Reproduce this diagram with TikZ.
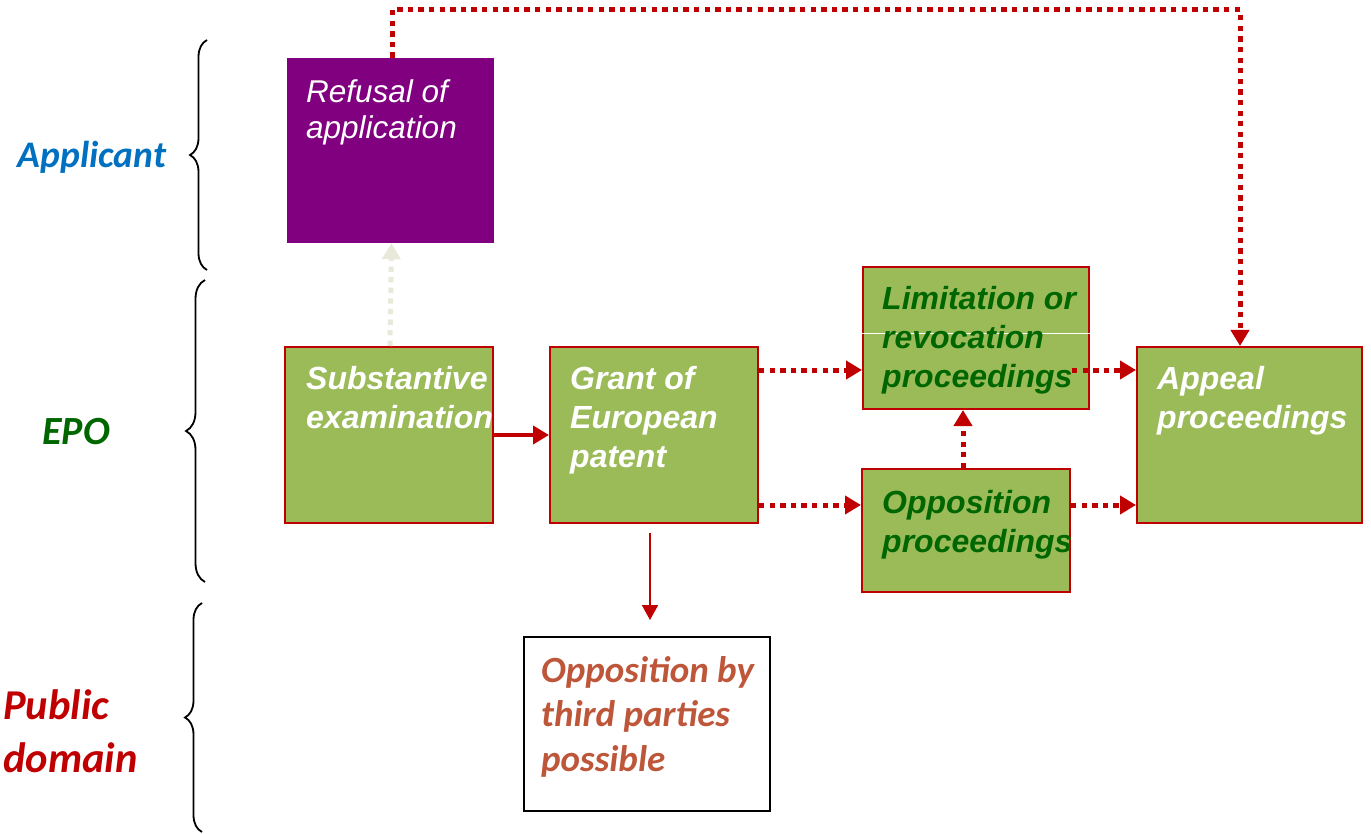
\documentclass[tikz,border=0pt]{standalone}
\usepackage{fontspec}
\setmainfont{Liberation Sans}
\newfontfamily\calibri{Carlito}
\usetikzlibrary{arrows.meta,decorations.pathreplacing,calc}
\definecolor{boxgreen}{RGB}{155,187,89}
\definecolor{boxred}{RGB}{192,0,0}
\definecolor{purp}{RGB}{128,0,128}
\definecolor{dgreen}{RGB}{0,102,0}
\definecolor{appblue}{RGB}{0,112,192}
\definecolor{pubred}{RGB}{192,0,0}
\definecolor{oppbrown}{RGB}{190,86,58}
\definecolor{paleline}{RGB}{233,233,218}
\begin{document}
\begin{tikzpicture}[x=1pt,y=-1pt,
  gbox/.style={draw=boxred, fill=boxgreen, line width=2pt, inner sep=0pt},
  pbox/.style={fill=purp, inner sep=0pt},
  wbox/.style={draw=black, fill=white, line width=2pt, inner sep=0pt},
  txt/.style={anchor=north west, inner sep=0pt, align=left},
  btxt/.style={txt, font=\fontsize{32}{39}\selectfont\bfseries\itshape},
  lbl/.style={inner sep=0pt, align=left, font=\calibri\bfseries\itshape},
  tip/.style={-{Triangle[length=16pt,width=18pt]}},
  dotred/.style={draw=boxred, line width=5pt, dash pattern=on 5.3pt off 5.3pt, tip},
  dotpale/.style={draw=paleline, line width=5pt, dash pattern=on 5.3pt off 5.3pt, tip},
  solidred/.style={draw=boxred, line width=4.5pt, tip},
  thinred/.style={draw=boxred, line width=2pt, -{Triangle[length=15pt,width=16pt]}},
  brc/.style={draw=black, line width=1.8pt, decorate, decoration={brace, amplitude=#1}}
]
\useasboundingbox (0,0) rectangle (1371,834);

% boxes
\node[pbox, minimum width=207pt, minimum height=185pt] (ref) at (390.5,150.5) {};
\node[gbox, minimum width=208pt, minimum height=176pt] (sub) at (389,435) {};
\node[gbox, minimum width=208pt, minimum height=176pt] (grant) at (654,435) {};
\node[gbox, minimum width=226pt, minimum height=142pt] (lim) at (976,338) {};
\node[gbox, minimum width=208pt, minimum height=123pt] (opp) at (966,530.5) {};
\node[gbox, minimum width=225pt, minimum height=176pt] (app) at (1249.5,435) {};
\node[wbox, minimum width=246pt, minimum height=174pt] (third) at (647,724) {};

% white rule in limitation box
\draw[white, line width=1pt] (lim.west |- 0,334) -- (lim.east |- 0,334);

% texts
\node[txt, text=white, font=\fontsize{31.5}{36}\selectfont\itshape] (reft) at (306,79) {Refusal of\\application};
\node[btxt, text=white] (subt) at (306,366) {Substantive\\examination};
\node[btxt, text=white] (grantt) at (570,366) {Grant of\\European\\patent};
\node[btxt, text=dgreen] (limt) at (882,286) {Limitation or\\revocation\\proceedings};
\node[btxt, text=dgreen] (oppt) at (882,490) {Opposition\\proceedings};
\node[btxt, text=white] (appt) at (1157,366) {Appeal\\proceedings};
\node[txt, text=oppbrown, font=\calibri\fontsize{37}{44.5}\selectfont\bfseries\itshape] (thirdt) at (541,656) {Opposition by\\third parties\\possible};

% side labels
\node[lbl, text=appblue, font=\calibri\fontsize{37.5}{44}\selectfont\bfseries\itshape] (lapp) at (92,157) {Applicant};
\node[lbl, text=dgreen, font=\calibri\fontsize{40}{48}\selectfont\bfseries\itshape] (lepo) at (76,432) {EPO};
\node[lbl, text=pubred, font=\calibri\fontsize{42.5}{53}\selectfont\bfseries\itshape, anchor=west] (lpub) at (3,731) {Public\\domain};

% braces
\draw[brc=17pt] (207,270) -- (207,40);
\draw[brc=19pt] (205,582) -- (205,280);
\draw[brc=17pt] (202,832) -- (202,603);

% connectors
\coordinate (ya) at (0,370);
\coordinate (yb) at (0,505);
\coordinate (ytop) at (0,10);
\draw[dotpale] ([xshift=1pt]sub.north) -- ([xshift=1pt]ref.south);
\draw[solidred] (sub.east) -- (grant.west);
\draw[dotred] (grant.east |- ya) -- (lim.west |- ya);
\draw[dotred] (grant.east |- yb) -- (opp.west |- yb);
\draw[dotred] ([xshift=-3pt]opp.north) -- ([xshift=-3pt]opp.north |- lim.south);
\path (lim.east |- ya) ++(-18,0) coordinate (limout);
\draw[dotred] (limout) -- (app.west |- ya);
\draw[dotred] (opp.east |- yb) -- (app.west |- yb);
\draw[dotred] ([xshift=1.5pt]ref.north) -- ([xshift=1.5pt]ref.north |- ytop) -- ([xshift=-9.5pt]app.north |- ytop) -- ([xshift=-9.5pt]app.north);
\coordinate (gs) at ($(grant.south)+(-4,9)$);
\path (gs |- third.north) ++(0,-16) coordinate (te);
\draw[thinred] (gs) -- (te);
\end{tikzpicture}
\end{document}
